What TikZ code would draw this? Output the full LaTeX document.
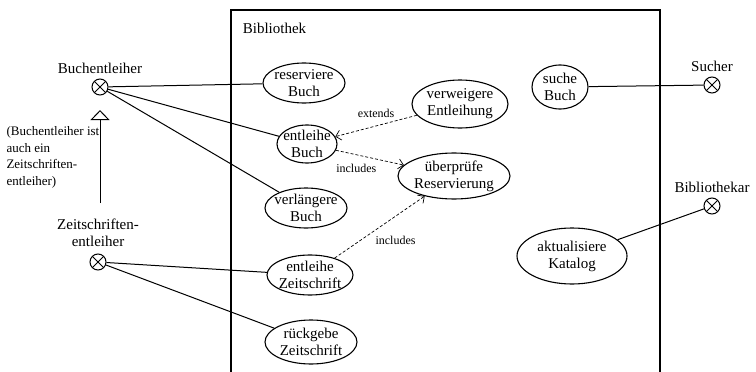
\documentclass[tikz,border=0pt]{standalone}
\usepackage{fontspec}
\setmainfont{Liberation Serif}
\usetikzlibrary{shapes.geometric,arrows.meta}

\begin{document}
\begin{tikzpicture}[x=1pt, y=-1pt, line width=1pt,
    usecase/.style={draw, ellipse, inner sep=0pt, line width=1.1pt},
    actor/.style={draw, circle, minimum size=16pt, inner sep=0pt,
      path picture={\draw (path picture bounding box.north west) -- (path picture bounding box.south east)
        (path picture bounding box.north east) -- (path picture bounding box.south west);}},
    dep/.style={dash pattern=on 3pt off 2pt, line width=0.7pt, -{Straight Barb[length=5pt,width=10pt]}},
    deplabel/.style={font=\fontsize{12}{14}\selectfont},
    every label/.style={font=\fontsize{15}{17}\selectfont, align=center}]
    \useasboundingbox (0,0) rectangle (756,372);
    % system boundary
    \draw[line width=2pt] (231,380) |- (660,10) -- (660,380);
    \node[anchor=west, font=\fontsize{15}{17}\selectfont] (sys) at (239,28) {Bibliothek};
    % actors
    \node[actor, label={[label distance=1pt]above:Buchentleiher}] (be) at (100,87) {};
    \node[actor, label={[label distance=3pt]above:Zeitschriften-\\entleiher}] (ze) at (98,262) {};
    \node[actor, label={[label distance=1pt]above:Sucher}] (su) at (712,85) {};
    \node[actor, label={[label distance=1pt]above:Bibliothekar}] (bk) at (712,206) {};
    \node[font=\fontsize{13}{16.5}\selectfont, align=left, anchor=north west, inner sep=0pt] (note) at (6,126)
      {(Buchentleiher ist\\ auch ein\\ Zeitschriften-\\ entleiher)};
    % use cases
    \node[usecase, minimum width=82, minimum height=40, label={center:reserviere\\Buch}] (rb) at (304,83) {};
    \node[usecase, minimum width=96, minimum height=48, label={center:verweigere\\Entleihung}] (ve) at (460,104) {};
    \node[usecase, minimum width=60, minimum height=38, label={center:entleihe\\Buch}] (eb) at (307,144) {};
    \node[usecase, minimum width=112, minimum height=46, label={center:überprüfe\\Reservierung}] (ur) at (454,176) {};
    \node[usecase, minimum width=82, minimum height=40, label={center:verlängere\\Buch}] (vb) at (306,208) {};
    \node[usecase, minimum width=86, minimum height=40, label={center:entleihe\\Zeitschrift}] (ez) at (310,275) {};
    \node[usecase, minimum width=92, minimum height=44, label={center:rückgebe\\Zeitschrift}] (rz) at (311,342) {};
    \node[usecase, minimum width=56, minimum height=44, label={center:suche\\Buch}] (sb) at (560,87) {};
    \node[usecase, minimum width=110, minimum height=56, label={center:aktualisiere\\Katalog}] (ak) at (572,256) {};
    % generalization
    \coordinate (genlo) at (100,203);
    \coordinate (genhi) at (100,110);
    \draw[-{Triangle[open,length=10pt,width=19pt]}] (genlo) -- (genhi);
    % associations
    \draw (be) -- (rb);
    \draw (be) -- (eb);
    \draw (be) -- (vb);
    \draw (ze) -- (ez);
    \draw (ze) -- (rz);
    \draw (sb) -- (su);
    \draw (ak) -- (bk);
    % extends / includes
    \draw[dep] (ve) -- (eb) node[deplabel, midway, above=5pt] {extends};
    \draw[dep] (eb) -- (ur) node[deplabel, pos=0.3, below=6pt] {includes};
    \draw[dep] (ez) -- (ur) node[deplabel, pos=0.28, right=12pt] {includes};
\end{tikzpicture}
\end{document}
